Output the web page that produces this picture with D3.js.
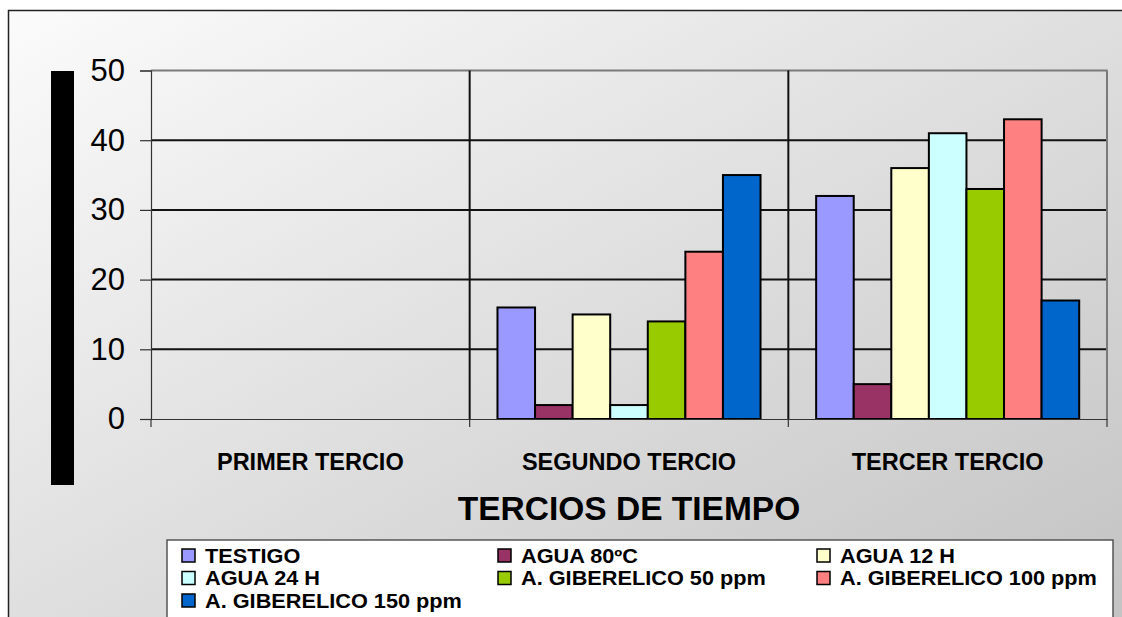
<!DOCTYPE html>
<html>
<head>
<meta charset="utf-8">
<script src="https://cdn.jsdelivr.net/npm/d3@7"></script>
<style>
  html, body { margin: 0; padding: 0; background: #ffffff; }
  svg { display: block; font-family: "Liberation Sans", Arial, sans-serif; }
</style>
</head>
<body>
<svg id="chart" width="1122" height="617"></svg>
<script>
// Time thirds on the category axis
const categories = ["PRIMER TERCIO", "SEGUNDO TERCIO", "TERCER TERCIO"];

// Treatments (one bar per treatment inside each third)
const seriesNames = [
  "TESTIGO",
  "AGUA 80ºC",
  "AGUA 12 H",
  "AGUA 24 H",
  "A. GIBERELICO 50 ppm",
  "A. GIBERELICO 100 ppm",
  "A. GIBERELICO 150 ppm"
];
const seriesColors = ["#9999FF", "#993366", "#FFFFCC", "#CCFFFF", "#99CC00", "#FF8080", "#0066CC"];

// Values per treatment, in the order of the categories
const testigo   = [0, 16, 32];
const agua80    = [0, 2, 5];
const agua12    = [0, 15, 36];
const agua24    = [0, 2, 41];
const gib50     = [0, 14, 33];
const gib100    = [0, 24, 43];
const gib150    = [0, 35, 17];
const seriesValues = [testigo, agua80, agua12, agua24, gib50, gib100, gib150];

const yTicks = [0, 10, 20, 30, 40, 50];
const xTitle = "TERCIOS DE TIEMPO";

const svg = d3.select("#chart");

// Chart area background with a soft diagonal gradient
const defs = svg.append("defs");
const grad = defs.append("linearGradient")
  .attr("id", "bg").attr("x1", "0").attr("y1", "0").attr("x2", "1").attr("y2", "1");
grad.append("stop").attr("offset", "0%").attr("stop-color", "#fbfbfb");
grad.append("stop").attr("offset", "100%").attr("stop-color", "#c2c2c2");

svg.append("rect")
  .attr("x", 8.5).attr("y", 10.5).attr("width", 1130).attr("height", 620)
  .attr("fill", "url(#bg)").attr("stroke", "#222").attr("stroke-width", 1.5);

// Plot region
const plot = { left: 151, right: 1107, top: 70.5, bottom: 419 };

const x0 = d3.scaleBand().domain(categories).range([plot.left, plot.right]).padding(0);
const x1 = d3.scaleBand().domain(d3.range(seriesNames.length))
  .range([0, x0.bandwidth()]).paddingInner(0).paddingOuter(0.74);
const y = d3.scaleLinear().domain([0, 50]).range([plot.bottom, plot.top]);

// Vertical bar standing in for the rotated value-axis title
svg.append("rect")
  .attr("x", 51).attr("y", 71).attr("width", 23).attr("height", 414)
  .attr("fill", "#000");

// Horizontal gridlines
svg.append("g").selectAll("line")
  .data(yTicks.filter(t => t > 0 && t < 50))
  .join("line")
  .attr("x1", plot.left).attr("x2", plot.right)
  .attr("y1", d => y(d)).attr("y2", d => y(d))
  .attr("stroke", "#111").attr("stroke-width", 2);

// Plot frame: top and right edges in grey
svg.append("line")
  .attr("x1", plot.left).attr("x2", plot.right + 0.5)
  .attr("y1", y(50)).attr("y2", y(50))
  .attr("stroke", "#7a7a7a").attr("stroke-width", 2);
svg.append("line")
  .attr("x1", plot.right).attr("x2", plot.right)
  .attr("y1", y(50)).attr("y2", plot.bottom)
  .attr("stroke", "#7a7a7a").attr("stroke-width", 2);

// Category separators
svg.append("g").selectAll("line")
  .data(categories.slice(1))
  .join("line")
  .attr("x1", d => x0(d)).attr("x2", d => x0(d))
  .attr("y1", y(50)).attr("y2", plot.bottom)
  .attr("stroke", "#111").attr("stroke-width", 2);

// Bars
const groups = svg.append("g").selectAll("g")
  .data(categories)
  .join("g")
  .attr("transform", d => `translate(${x0(d)},0)`);

groups.selectAll("rect")
  .data((c, ci) => seriesValues.map((vals, si) => ({ si, v: vals[ci] })))
  .join("rect")
  .attr("x", d => x1(d.si))
  .attr("width", x1.bandwidth())
  .attr("y", d => y(d.v))
  .attr("height", d => y(0) - y(d.v))
  .attr("fill", d => seriesColors[d.si])
  .attr("stroke", "#000").attr("stroke-width", 2);

// Value axis
const yAxis = d3.axisLeft(y).tickValues(yTicks).tickSize(11).tickPadding(15);
const gy = svg.append("g").attr("transform", `translate(${plot.left},0)`).call(yAxis);
gy.select(".domain").attr("stroke", "#333").attr("stroke-width", 1.2);
gy.selectAll(".tick line").attr("stroke", "#333").attr("stroke-width", 1.2);
gy.selectAll(".tick text")
  .attr("font-size", 31).attr("fill", "#000")
  .attr("font-family", "Liberation Sans, Arial, sans-serif");

// Category axis
const xAxis = d3.axisBottom(x0).tickSize(0).tickPadding(34);
const gx = svg.append("g").attr("transform", `translate(0,${plot.bottom})`).call(xAxis);
gx.select(".domain").attr("stroke", "#333").attr("stroke-width", 1.2);
gx.selectAll(".tick text")
  .attr("font-size", 23.5).attr("font-weight", "bold").attr("fill", "#000")
  .attr("font-family", "Liberation Sans, Arial, sans-serif");

// Tick marks between categories
svg.append("g").selectAll("line")
  .data([plot.left, ...categories.slice(1).map(c => x0(c)), plot.right])
  .join("line")
  .attr("x1", d => d).attr("x2", d => d)
  .attr("y1", plot.bottom).attr("y2", plot.bottom + 8)
  .attr("stroke", "#333").attr("stroke-width", 1.2);

// Category-axis title
svg.append("text")
  .attr("x", (plot.left + plot.right) / 2).attr("y", 520)
  .attr("text-anchor", "middle")
  .attr("font-size", 33.5).attr("font-weight", "bold").attr("fill", "#000")
  .text(xTitle);

// Legend
const legend = svg.append("g");
legend.append("rect")
  .attr("x", 167).attr("y", 540).attr("width", 946).attr("height", 100)
  .attr("fill", "#fff").attr("stroke", "#555").attr("stroke-width", 1.5);

const colX = [182, 498, 817];
const rowY = [555.5, 578, 600.5];
const items = legend.selectAll("g.item")
  .data(seriesNames)
  .join("g").attr("class", "item")
  .attr("transform", (d, i) => `translate(${colX[i % 3]},${rowY[Math.floor(i / 3)]})`);
items.append("rect")
  .attr("x", 0).attr("y", -6.5).attr("width", 13).attr("height", 13)
  .attr("fill", (d, i) => seriesColors[i]).attr("stroke", "#000").attr("stroke-width", 1.5);
// Legend labels: slightly widened glyphs so the rows stay compact
items.append("text")
  .attr("transform", "translate(23,7.2) scale(1.12,1)")
  .attr("font-size", 19.4).attr("font-weight", "bold").attr("fill", "#000")
  .text(d => d);
</script>
</body>
</html>
